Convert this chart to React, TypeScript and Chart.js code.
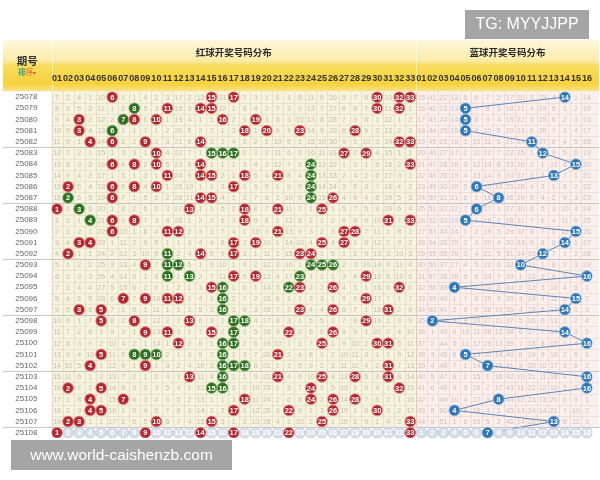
import React, { useEffect, useRef } from "react";
import { Chart, registerables } from "chart.js";

Chart.register(...registerables);

const periods = [
  "25078", "25079", "25080", "25081", "25082", "25083", "25084", "25085",
  "25086", "25087", "25088", "25089", "25090", "25091", "25092", "25093",
  "25094", "25095", "25096", "25097", "25098", "25099", "25100", "25101",
  "25102", "25103", "25104", "25105", "25106", "25107", "25108",
];

const redDraws: number[][] = [
  [6, 15, 17, 30, 32, 33],
  [8, 11, 14, 15, 30, 32],
  [3, 7, 8, 10, 16, 19],
  [3, 6, 18, 20, 23, 28],
  [4, 6, 9, 14, 32, 33],
  [10, 15, 16, 17, 27, 29],
  [6, 8, 10, 14, 24, 33],
  [11, 14, 15, 18, 21, 24],
  [2, 6, 8, 10, 17, 24],
  [2, 6, 14, 15, 24, 26],
  [1, 3, 13, 18, 21, 25],
  [4, 6, 8, 18, 31, 33],
  [6, 11, 12, 21, 27, 28],
  [3, 4, 17, 19, 25, 27],
  [2, 11, 14, 17, 23, 24],
  [9, 11, 12, 24, 25, 26],
  [11, 13, 17, 19, 23, 29],
  [15, 16, 22, 23, 26, 32],
  [7, 9, 11, 12, 16, 29],
  [3, 5, 16, 23, 26, 31],
  [5, 8, 13, 17, 18, 29],
  [9, 11, 15, 17, 22, 26],
  [12, 16, 17, 25, 30, 31],
  [5, 8, 9, 10, 16, 21],
  [4, 9, 16, 17, 18, 31],
  [13, 16, 21, 25, 28, 31],
  [2, 5, 15, 16, 24, 32],
  [4, 7, 18, 24, 26, 28],
  [4, 5, 17, 22, 26, 30],
  [2, 3, 10, 15, 25, 33],
  [1, 9, 14, 17, 22, 33],
];

// red numbers that are highlighted in green
const greenMarks: number[][] = [
  [], [8], [7], [6], [], [15, 16, 17], [24], [24], [24], [2, 24], [3], [4],
  [], [], [11], [11, 12, 24, 25, 26], [11, 13, 23], [16, 22], [16], [16],
  [17, 18], [17], [16, 17], [8, 9, 10, 16], [16, 17, 18], [16], [15, 16],
  [], [], [], [],
];

const blueDraws: number[] = [
  14, 5, 5, 5, 11, 12, 15, 13, 6, 8, 6, 5, 15, 14, 12, 10,
  16, 4, 15, 14, 2, 14, 16, 5, 7, 16, 16, 8, 4, 13, 7,
];

// omission counts shown in the first row (25078)
const redMissStart = [
  7, 2, 4, 1, 10, 0, 1, 1, 4, 2, 3, 17, 2, 13, 0, 21, 0, 7, 3, 1, 6, 1, 8,
  11, 6, 26, 5, 7, 6, 0, 10, 0, 0,
];
const blueMissStart = [15, 41, 22, 12, 6, 6, 7, 2, 17, 20, 3, 23, 4, 0, 1, 14];

const redLabels = [
  "01", "02", "03", "04", "05", "06", "07", "08", "09", "10", "11", "12",
  "13", "14", "15", "16", "17", "18", "19", "20", "21", "22", "23", "24",
  "25", "26", "27", "28", "29", "30", "31", "32", "33",
];
const blueLabels = [
  "01", "02", "03", "04", "05", "06", "07", "08", "09", "10", "11", "12",
  "13", "14", "15", "16",
];
const colLabels = [...redLabels, ...blueLabels];

const FONT = "'Liberation Sans', Arial, sans-serif";
const CJK = "'Noto Sans CJK SC', sans-serif";

function missRows(start: number[], draws: number[][]): number[][] {
  const rows: number[][] = [];
  let cur = start.slice();
  for (let r = 0; r < draws.length; r++) {
    if (r > 0) cur = cur.map((v, c) => (draws[r - 1].includes(c + 1) ? 1 : v + 1));
    rows.push(cur);
  }
  return rows;
}

const tablePlugin = {
  id: "lotteryTable",
  beforeDraw(chart: any) {
    const { ctx, chartArea: ca } = chart;
    const xs = chart.scales.x;
    const ys = chart.scales.y;
    const L = 3, R = 599, T = 40;
    const n = periods.length;
    const nRed = redLabels.length;
    const xMid = xs.getPixelForValue(nRed + 0.5);
    const rowTop = (i: number) => ys.getPixelForValue(i - 0.5);
    ctx.save();
    // header band
    const g = ctx.createLinearGradient(0, T, 0, ca.top);
    g.addColorStop(0, "#fdf8de");
    g.addColorStop(0.4, "#fbeaa8");
    g.addColorStop(0.5, "#f8dc5c");
    g.addColorStop(0.85, "#f6d23c");
    g.addColorStop(1, "#f9e28e");
    ctx.fillStyle = g;
    ctx.fillRect(L, T, R - L, ca.top - T);
    // body backgrounds
    ctx.fillStyle = "#ffffff";
    ctx.fillRect(L, ca.top, ca.left - L, ca.bottom - ca.top);
    ctx.fillStyle = "#f5f2de";
    ctx.fillRect(ca.left, ca.top, xMid - ca.left, ca.bottom - ca.top);
    ctx.fillStyle = "#faefed";
    ctx.fillRect(xMid, ca.top, R - xMid, ca.bottom - ca.top);
    const lt = rowTop(n - 1);
    ctx.fillStyle = "#ffffff";
    ctx.fillRect(L, lt, R - L, ca.bottom - lt);
    // vertical grid lines
    ctx.lineWidth = 1;
    for (let c = 1; c < colLabels.length; c++) {
      const px = Math.round(xs.getPixelForValue(c + 0.5)) + 0.5;
      ctx.strokeStyle = c === nRed ? "#dcd0a4" : c < nRed ? "rgba(214,204,160,0.45)" : "rgba(226,200,195,0.5)";
      ctx.beginPath();
      ctx.moveTo(px, ca.top);
      ctx.lineTo(px, lt);
      ctx.stroke();
    }
    // header separators
    ctx.strokeStyle = "rgba(255,255,255,0.55)";
    [ca.left, xMid].forEach((p) => {
      const px = Math.round(p) + 0.5;
      ctx.beginPath();
      ctx.moveTo(px, T);
      ctx.lineTo(px, ca.top);
      ctx.stroke();
    });
    ctx.strokeStyle = "#e3dcc4";
    ctx.beginPath();
    ctx.moveTo(Math.round(ca.left) + 0.5, ca.top);
    ctx.lineTo(Math.round(ca.left) + 0.5, ca.bottom);
    ctx.stroke();
    // row lines
    for (let i = 1; i < n; i++) {
      const py = Math.round(rowTop(i)) + 0.5;
      const major = i % 5 === 0;
      ctx.strokeStyle = major ? "#c6c6c6" : "rgba(212,202,170,0.35)";
      ctx.beginPath();
      ctx.moveTo(major ? L : ca.left, py);
      ctx.lineTo(R, py);
      ctx.stroke();
    }
    // omission numbers
    const redMiss = missRows(redMissStart, redDraws);
    const blueMiss = missRows(blueMissStart, blueDraws.map((b) => [b]));
    ctx.font = `7px ${FONT}`;
    ctx.textAlign = "center";
    ctx.textBaseline = "middle";
    for (let i = 0; i < n - 1; i++) {
      const py = ys.getPixelForValue(i) + 0.5;
      ctx.fillStyle = "#c6c1ab";
      for (let c = 1; c <= nRed; c++) {
        if (redDraws[i].includes(c)) continue;
        ctx.fillText(String(redMiss[i][c - 1]), xs.getPixelForValue(c), py);
      }
      ctx.fillStyle = "#cfc1bd";
      for (let c = 1; c <= blueLabels.length; c++) {
        if (blueDraws[i] === c) continue;
        ctx.fillText(String(blueMiss[i][c - 1]), xs.getPixelForValue(nRed + c), py);
      }
    }
    // header titles
    ctx.fillStyle = "#2a2a2a";
    ctx.font = `bold 9.5px ${CJK}`;
    ctx.fillText("红球开奖号码分布", (ca.left + xMid) / 2, 52);
    ctx.fillText("蓝球开奖号码分布", (xMid + R) / 2, 52);
    const lc = (L + ca.left) / 2;
    ctx.font = `bold 10.5px ${CJK}`;
    ctx.fillStyle = "#333333";
    ctx.fillText("期号", lc, 61);
    ctx.font = `bold 7.5px ${CJK}`;
    ctx.textAlign = "left";
    ctx.fillStyle = "#2f9f8c";
    ctx.fillText("排", lc - 9, 72.5);
    ctx.fillStyle = "#e4782a";
    ctx.fillText("序", lc - 1.5, 72.5);
    ctx.fillStyle = "#d9534f";
    ctx.font = `6px ${FONT}`;
    ctx.fillText("▾", lc + 6, 73);
    ctx.restore();
  },
  afterDatasetsDraw(chart: any) {
    const { ctx } = chart;
    ctx.save();
    ctx.textAlign = "center";
    ctx.textBaseline = "middle";
    ctx.font = `bold 7.5px ${FONT}`;
    chart.data.datasets.forEach((ds: any, di: number) => {
      if (!ds.ballText) return;
      const meta = chart.getDatasetMeta(di);
      ctx.fillStyle = ds.ballText;
      meta.data.forEach((el: any, k: number) => {
        ctx.fillText(String(ds.data[k].n), el.x, el.y + 0.5);
      });
    });
    ctx.restore();
  },
  afterDraw(chart: any) {
    const { ctx } = chart;
    ctx.save();
    ctx.fillStyle = "#a5a5a5";
    ctx.fillRect(465, 10, 124, 29);
    ctx.fillRect(11, 440, 221, 30);
    ctx.fillStyle = "#ffffff";
    ctx.textAlign = "center";
    ctx.textBaseline = "middle";
    ctx.font = `16px ${FONT}`;
    ctx.fillText("TG: MYYJJPP", 527, 25);
    ctx.font = `15.5px ${FONT}`;
    ctx.fillText("www.world-caishenzb.com", 121.5, 455.5);
    ctx.restore();
  },
};

export default function App() {
  const ref = useRef<HTMLCanvasElement>(null);

  useEffect(() => {
    if (!ref.current) return;
    const nRed = redLabels.length;
    const last = periods.length - 1;
    const redPts: any[] = [];
    const greenPts: any[] = [];
    const palePts: any[] = [];
    redDraws.forEach((row, i) => {
      row.forEach((v) => {
        const p = { x: v, y: i, n: v };
        if (greenMarks[i].includes(v)) greenPts.push(p);
        else redPts.push(p);
      });
    });
    const bluePts = blueDraws.map((b, i) => ({ x: nRed + b, y: i, n: b }));
    redLabels.forEach((_, k) => {
      if (!redDraws[last].includes(k + 1)) palePts.push({ x: k + 1, y: last, n: k + 1 });
    });
    blueLabels.forEach((_, k) => {
      if (blueDraws[last] !== k + 1) palePts.push({ x: nRed + k + 1, y: last, n: k + 1 });
    });

    const ball = (fill: string, border: string) => ({
      type: "scatter" as const,
      pointRadius: 5.4,
      pointHoverRadius: 5.4,
      backgroundColor: fill,
      borderColor: border,
      borderWidth: 0.8,
      order: 1,
    });

    const chart = new Chart(ref.current, {
      type: "scatter",
      data: {
        datasets: [
          { ...ball("#b3262f", "#e08a8e"), label: "red", data: redPts, ballText: "#ffffff" } as any,
          { ...ball("#2d6f1e", "#7fb070"), label: "green", data: greenPts, ballText: "#ffffff" } as any,
          { ...ball("#2c76b8", "#7fb0dc"), label: "blue", data: bluePts, ballText: "#ffffff" } as any,
          { ...ball("#d7dee9", "#bfc9d8"), label: "pale", data: palePts, ballText: "#ffffff" } as any,
          {
            type: "line",
            label: "blueLine",
            data: bluePts,
            showLine: true,
            borderColor: "#5f84b3",
            borderWidth: 1,
            pointRadius: 0,
            fill: false,
            order: 10,
          } as any,
        ],
      },
      options: {
        animation: false,
        responsive: false,
        devicePixelRatio: 1,
        events: [],
        layout: { padding: { left: 3, top: 40, right: 5.5, bottom: 41.7 } },
        plugins: { legend: { display: false }, tooltip: { enabled: false } },
        scales: {
          x: {
            type: "linear",
            position: "top",
            min: 0.5,
            max: colLabels.length + 0.5,
            bounds: "data",
            grid: { display: false, drawTicks: false },
            border: { display: false },
            ticks: {
              autoSkip: false,
              maxRotation: 0,
              stepSize: 1,
              padding: 8,
              color: "#333333",
              font: { size: 9, weight: "bold", family: FONT },
              callback: (v: any) => colLabels[Number(v) - 1] ?? "",
            },
            afterBuildTicks: (s: any) => {
              s.ticks = colLabels.map((_, i) => ({ value: i + 1 }));
            },
            afterFit: (s: any) => {
              s.height = 51.5;
            },
          },
          y: {
            type: "linear",
            reverse: true,
            min: -0.5,
            max: periods.length - 0.5,
            bounds: "data",
            grid: { display: false, drawTicks: false },
            border: { display: false },
            ticks: {
              autoSkip: false,
              stepSize: 1,
              padding: 14,
              crossAlign: "near",
              color: "#666666",
              font: { size: 8, family: FONT },
              callback: (v: any) => periods[Number(v)] ?? "",
            },
            afterBuildTicks: (s: any) => {
              s.ticks = periods.map((_, i) => ({ value: i }));
            },
            afterFit: (s: any) => {
              s.width = 48.5;
            },
          },
        },
      } as any,
      plugins: [tablePlugin],
    });
    return () => chart.destroy();
  }, []);

  return (
    <div style={{ position: "fixed", left: 0, top: 0, width: 600, height: 480, background: "#ffffff" }}>
      <canvas ref={ref} width={600} height={480} style={{ display: "block", width: 600, height: 480 }} />
    </div>
  );
}
